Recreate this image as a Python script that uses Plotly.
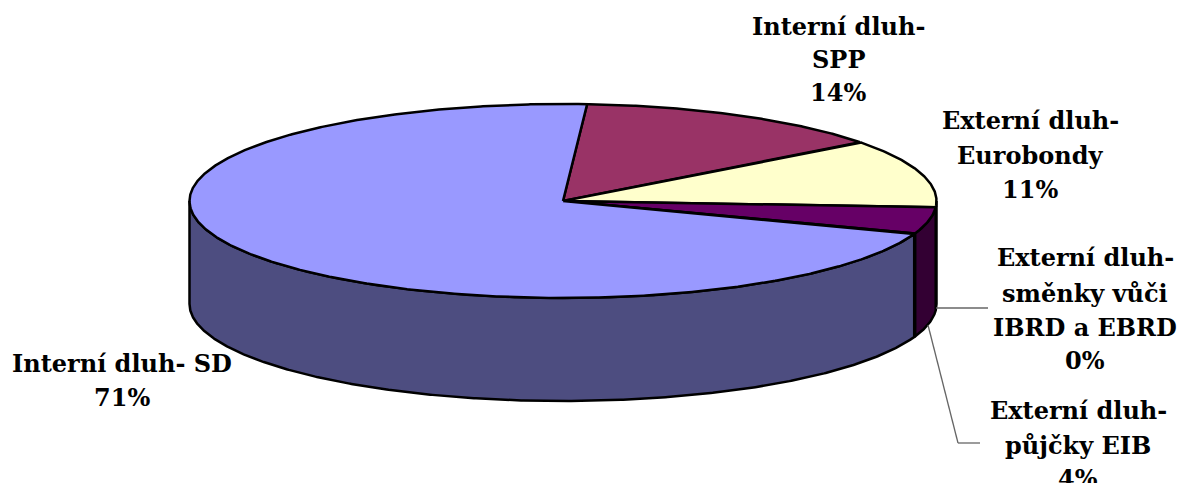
import numpy as np
import plotly.graph_objects as go

# Data, in pie order (clockwise from the start angle)
categories = ["Interní dluh- SPP", "Externí dluh- Eurobondy", "Externí dluh- půjčky EIB",
              "Externí dluh- směnky vůči IBRD a EBRD", "Interní dluh- SD"]
values = [13.6, 11.4, 4.4, 0.1, 70.5]
top_colors = ["#993366", "#FFFFCC", "#660066", "#CCFFFF", "#9999FF"]
wall_colors = ["#4D1A33", "#808066", "#330033", "#668080", "#4D4D80"]

label_lines = [
    ("Interní dluh-", 838, 26), ("SPP", 838, 59), ("14%", 838, 92),
    ("Externí dluh-", 1030, 120), ("Eurobondy", 1030, 155), ("11%", 1030, 189),
    ("Externí dluh-", 1085, 257), ("směnky vůči", 1085, 293), ("IBRD a EBRD", 1085, 327), ("0%", 1085, 360),
    ("Externí dluh-", 1078, 410), ("půjčky EIB", 1078, 445), ("4%", 1078, 478),
    ("Interní dluh- SD", 122, 363), ("71%", 122, 397),
]

# Pie projection
CX, CY, RX, RY, DEPTH = 563, 201, 373.5, 97, 103
START = 3.7


def pt(deg, drop=0.0):
    a = np.radians(deg)
    return CX + RX * np.sin(a), CY - RY * np.cos(a) + drop


edges = START + np.concatenate([[0], np.cumsum(values)]) * 3.6
fig = go.Figure()


def poly(x, y, fill):
    fig.add_trace(go.Scatter(x=x, y=y, mode="lines", fill="toself", fillcolor=fill,
                             line=dict(color="black", width=2.5), hoverinfo="skip", showlegend=False))


# Side walls: only the front half (90..270 degrees) is visible
for a0, a1, c in zip(edges[:-1], edges[1:], wall_colors):
    lo, hi = max(a0, 90), min(a1, 270)
    if hi <= lo:
        continue
    t = np.linspace(lo, hi, max(int(hi - lo) * 3, 2))
    x0, y0 = pt(t)
    x1, y1 = pt(t[::-1], DEPTH)
    poly(np.r_[x0, x1, x0[0]], np.r_[y0, y1, y0[0]], c)

# Top face
for a0, a1, c in zip(edges[:-1], edges[1:], top_colors):
    t = np.linspace(a0, a1, max(int(a1 - a0) * 3, 2))
    x, y = pt(t)
    poly(np.r_[CX, x, CX], np.r_[CY, y, CY], c)

for text, x, y in label_lines:
    fig.add_annotation(x=x, y=y, text=text, showarrow=False, xanchor="center", yanchor="middle",
                       font=dict(family="DejaVu Serif", size=24, color="black", weight="bold"))

leader = dict(type="line", line=dict(color="#666666", width=1.3))
fig.update_layout(
    width=1178, height=483, margin=dict(l=0, r=0, t=0, b=0),
    paper_bgcolor="white", plot_bgcolor="white", showlegend=False,
    xaxis=dict(range=[0, 1178], visible=False, fixedrange=True),
    yaxis=dict(range=[483, 0], visible=False, fixedrange=True),
    shapes=[
        dict(x0=936, y0=308, x1=988, y1=308, **leader),
        dict(x0=928, y0=325, x1=958, y1=443, **leader),
        dict(x0=958, y0=443, x1=980, y1=443, **leader),
    ],
)
fig.write_html("out.html", config={"displayModeBar": False},
               post_script="document.body.style.margin='0';document.body.style.overflow='hidden';")
